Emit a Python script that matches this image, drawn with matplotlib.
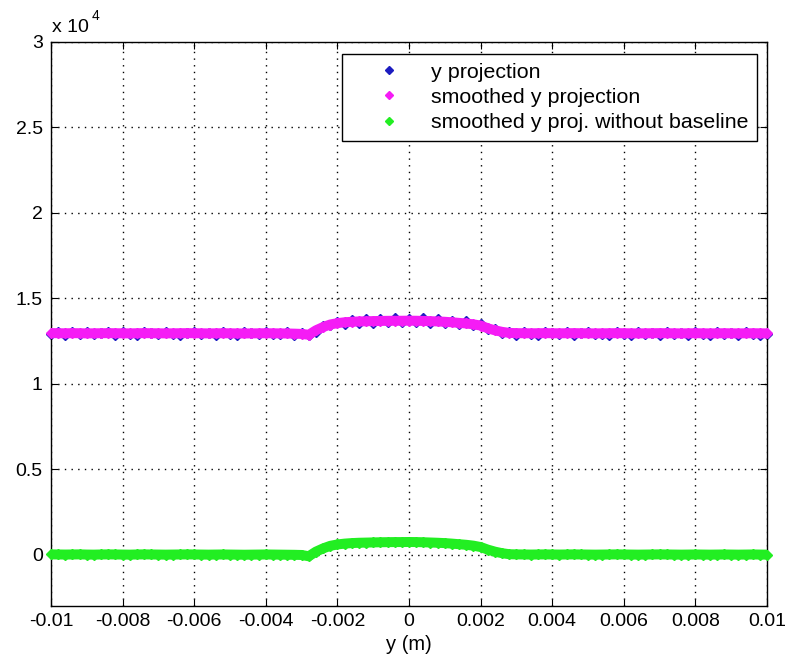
import numpy as np
import matplotlib
matplotlib.use("Agg")
import matplotlib.pyplot as plt

plt.rcParams['font.family'] = ['Liberation Sans', 'DejaVu Sans']

# sample positions along y (m)
y_pos = np.linspace(-0.01, 0.01, 101)

# raw y projection (counts)
proj_raw = [
    12900, 13050, 12880, 13010, 12920, 13060, 12890, 12990, 13040, 12870,
    13020, 12930, 12880, 13050, 12960, 12890, 13030, 12910, 12870, 13000,
    13060, 12900, 12950, 12880, 13040, 12920, 12860, 13010, 12970, 12890,
    13050, 12900, 12940, 13020, 12880, 12950,
    12830, 13050, 13380, 13420, 13600, 13480, 13760, 13550, 13820, 13580,
    13800, 13600, 13840, 13590, 13820, 13620, 13830, 13560, 13780, 13540,
    13700, 13480, 13660, 13420, 13480, 13200, 13180, 12950, 13020,
    12880, 13030, 12920, 12870, 13040, 12960, 12890, 13010, 12860, 12990,
    13050, 12900, 12940, 12870, 13020, 12930, 12880, 13050, 12910, 12960,
    12870, 13030, 12900, 12980, 12860, 13010, 12940, 12880, 13040, 12900,
    12950, 12870, 13020, 12910, 12880, 12940,
]

# smoothed projection
proj_smooth = [
    12970, 12960, 12955, 12965, 12960, 12950, 12955, 12960, 12965, 12960,
    12955, 12950, 12960, 12965, 12960, 12955, 12950, 12955, 12960, 12965,
    12960, 12955, 12950, 12955, 12960, 12955, 12950, 12945, 12950, 12955,
    12960, 12955, 12950, 12945, 12935, 12920,
    12870, 13130, 13320, 13470, 13550, 13600, 13630, 13650, 13660, 13670,
    13680, 13685, 13690, 13690, 13695, 13690, 13680, 13665, 13650, 13630,
    13600, 13565, 13530, 13480, 13410, 13250, 13130, 13040, 12980,
    12965, 12960, 12955, 12960, 12965, 12960, 12955, 12960, 12965, 12960,
    12955, 12950, 12955, 12960, 12965, 12960, 12955, 12950, 12955, 12960,
    12965, 12960, 12955, 12950, 12955, 12960, 12955, 12950, 12955, 12960,
    12955, 12950, 12955, 12960, 12955, 12950,
]

# smoothed projection after baseline removal
proj_nobase = [
    20, 15, 10, 15, 20, 10, 5, 15, 20, 15,
    10, 5, 15, 20, 15, 10, 5, 10, 15, 20,
    15, 10, 5, 10, 15, 10, 5, 0, 5, 10,
    15, 10, 5, 0, -5, -15,
    -90, 180, 370, 520, 600, 650, 680, 700, 710, 720,
    730, 735, 740, 740, 745, 740, 730, 715, 700, 680,
    650, 615, 580, 530, 450, 300, 180, 90, 30,
    20, 15, 10, 15, 20, 15, 10, 15, 20, 15,
    10, 5, 10, 15, 20, 15, 10, 5, 10, 15,
    20, 15, 10, 5, 10, 15, 10, 5, 10, 15,
    10, 5, 10, 15, 10, 5,
]

x_ticks = [-0.01, -0.008, -0.006, -0.004, -0.002, 0, 0.002, 0.004, 0.006, 0.008, 0.01]
x_tick_labels = ['-0.01', '-0.008', '-0.006', '-0.004', '-0.002', '0',
                 '0.002', '0.004', '0.006', '0.008', '0.01']
y_ticks = [0, 5000, 10000, 15000, 20000, 25000, 30000]
y_tick_labels = ['0', '0.5', '1', '1.5', '2', '2.5', '3']

c_raw = '#1c1cc0'
c_smooth = '#f51cf5'
c_nobase = '#22ee22'

fig = plt.figure(figsize=(7.85, 6.68), dpi=100)
ax = fig.add_axes([51 / 785, 62 / 668, 716 / 785, 564 / 668])

ms = 5.3
ax.plot(y_pos, proj_raw, 'D', ms=4.6, color=c_raw, mec=c_raw, clip_on=False,
        label='y projection', zorder=2)
ax.plot(y_pos, proj_smooth, '-', lw=7.2, color=c_smooth, zorder=3)
ax.plot(y_pos, proj_smooth, 'D', ms=ms, color=c_smooth, mec=c_smooth, clip_on=False,
        label='smoothed y projection', zorder=3)
ax.plot(y_pos, proj_nobase, '-', lw=7.2, color=c_nobase, zorder=4)
ax.plot(y_pos, proj_nobase, 'D', ms=ms, color=c_nobase, mec=c_nobase, clip_on=False,
        label='smoothed y proj. without baseline', zorder=4)

ax.set_xlim(-0.01, 0.01)
ax.set_ylim(-3000, 30000)
ax.set_xticks(x_ticks, x_tick_labels)
ax.set_yticks(y_ticks, y_tick_labels)
ax.tick_params(direction='in', length=5, width=0.8, top=True, right=True,
               labelsize=14, pad=5, colors='k')
ax.tick_params(axis='y', pad=6)
ax.grid(True, color='k', linestyle=(0, (1, 3.8)), linewidth=1.0)
for sp in ax.spines.values():
    sp.set_linewidth(1.0)
    sp.set_color('k')

ax.set_xlabel('y (m)', fontsize=14.5, labelpad=4)

# exponent above the y axis
fig.text(52 / 785, 1 - 32 / 668, 'x 10', fontsize=14, va='baseline')
fig.text(92 / 785, 1 - 20 / 668, '4', fontsize=10, va='baseline')

leg = ax.legend(loc='upper right', bbox_to_anchor=(706 / 716, 1 - 12 / 564),
                borderaxespad=0, fontsize=15.4, fancybox=False, edgecolor='k',
                framealpha=1, numpoints=1, handlelength=3.6, handletextpad=0.15,
                labelspacing=0.3, borderpad=0.4)
leg.get_frame().set_linewidth(1.0)
for h in leg.legend_handles:
    h.set_markersize(3.8)

fig.savefig('out.png', dpi=100)
